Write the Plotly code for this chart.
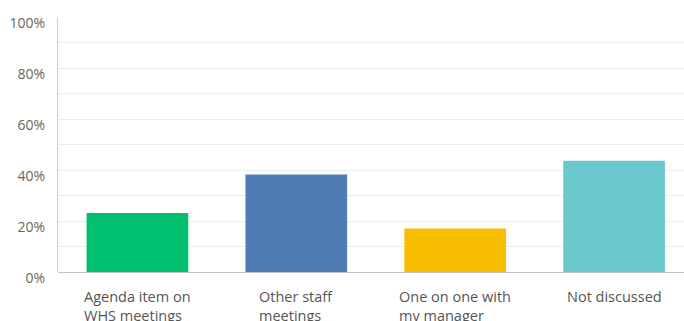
import plotly.graph_objects as go

categories = ["Agenda item on<br>WHS meetings", "Other staff<br>meetings",
              "One on one with<br>my manager", "Not discussed"]
values = [23.1, 38.2, 17.1, 43.6]
colors = ["#00bf6f", "#507cb6", "#f9be00", "#6bc8cd"]
y_ticks = [0, 20, 40, 60, 80, 100]
y_tick_labels = ["0%", "20%", "40%", "60%", "80%", "100%"]

x_pos = list(range(len(categories)))

fig = go.Figure(go.Bar(
    x=x_pos, y=values, marker=dict(color=colors, line=dict(width=0)),
    width=0.64, hoverinfo="skip",
))

for xi, label in zip(x_pos, categories):
    fig.add_annotation(
        x=xi, y=0, xref="x", yref="y", yanchor="top", yshift=-13,
        text=label, showarrow=False, align="left", xanchor="center",
        font=dict(family="Open Sans", size=14.5, color="#555555"),
    )

fig.update_layout(
    width=684, height=321,
    margin=dict(l=58, r=0, t=17, b=49),
    paper_bgcolor="white", plot_bgcolor="white",
    showlegend=False,
    font=dict(family="Open Sans", color="#666666"),
)
fig.update_xaxes(
    range=[-0.5, 3.44], showticklabels=False, showgrid=False,
    zeroline=False, showline=False, ticks="",
)
fig.update_yaxes(
    range=[0, 100], tickvals=y_ticks, ticktext=y_tick_labels,
    tickfont=dict(family="Open Sans", size=14, color="#666666"),
    ticks="", ticklabelstandoff=9, ticklabelshift=6,
    showgrid=True, gridcolor="#ececec", gridwidth=1,
    minor=dict(dtick=10, showgrid=True, gridcolor="#ececec", gridwidth=1),
    showline=True, linecolor="#d0d0d0", linewidth=1,
    zeroline=True, zerolinecolor="#c4c4c4", zerolinewidth=1,
)

fig.write_html("out.html")
